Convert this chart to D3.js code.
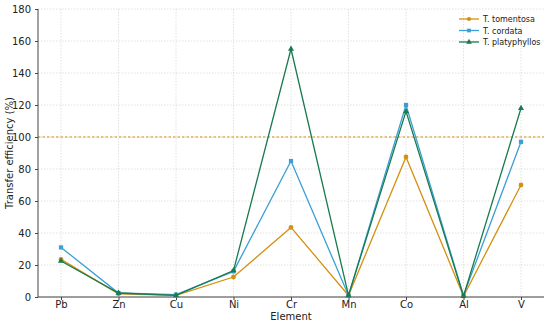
<!DOCTYPE html>
<html><head><meta charset="utf-8">
<script src="https://cdn.jsdelivr.net/npm/d3@7"></script>
<style>body{margin:0;background:#fff}svg{display:block}text{font-family:"DejaVu Sans",sans-serif}</style>
</head><body><svg id="c" width="550" height="325"></svg>
<script>
const categories = ["Pb","Zn","Cu","Ni","Cr","Mn","Co","Al","V"];
const tomentosa = [23.5,2,1,12.5,43.5,1,87.5,0.5,70];
const cordata = [31,2.5,1.5,16,85,1,120,1,97];
const platyphyllos = [22.5,2.5,1,16.5,155,1,116,0.5,118];
const yTicks = [0,20,40,60,80,100,120,140,160,180];
const seriesNames = ["T. tomentosa","T. cordata","T. platyphyllos"];
const refLine = 100;

const series = [
  {name:seriesNames[0], values:tomentosa, color:"#d4900f", sym:d3.symbolCircle},
  {name:seriesNames[1], values:cordata, color:"#3a9fd6", sym:d3.symbolSquare},
  {name:seriesNames[2], values:platyphyllos, color:"#187a4e", sym:d3.symbolTriangle}
];

const svg = d3.select("#c");
const L=38, R=544, T=9, B=297;
const x = d3.scalePoint().domain(categories).range([61,521]);
const y = d3.scaleLinear().domain([0,180]).range([B,T]);

// grid
const g = svg.append("g");
g.selectAll(".gy").data(yTicks).join("line")
  .attr("x1",L).attr("x2",R).attr("y1",d=>y(d)).attr("y2",d=>y(d))
  .attr("stroke","#d9d9d9").attr("stroke-width",0.8).attr("stroke-dasharray","1.5,1.5");
g.selectAll(".gx").data(categories).join("line")
  .attr("x1",d=>x(d)).attr("x2",d=>x(d)).attr("y1",T).attr("y2",B)
  .attr("stroke","#d9d9d9").attr("stroke-width",0.8).attr("stroke-dasharray","1.5,1.5");

// reference line
svg.append("line").attr("x1",L).attr("x2",R).attr("y1",y(refLine)).attr("y2",y(refLine))
  .attr("stroke","#d4900f").attr("stroke-width",1.2).attr("stroke-dasharray","2.5,2");

// axes
const yAxis = svg.append("g").attr("transform",`translate(${L},0)`)
  .call(d3.axisLeft(y).tickValues(yTicks).tickSize(3).tickSizeOuter(0));
const xAxis = svg.append("g").attr("transform",`translate(0,${B})`)
  .call(d3.axisBottom(x).tickSize(3).tickSizeOuter(0));
xAxis.select(".domain").attr("d",`M${L},0H${R}`);
yAxis.select(".domain").attr("d",`M0,${B}V${T}`);
[xAxis,yAxis].forEach(a=>{
  a.selectAll(".domain,line").attr("stroke","#444").attr("stroke-width",1);
  a.selectAll("text").attr("font-size",10).attr("fill","#222").attr("font-family","DejaVu Sans, sans-serif");
});
yAxis.selectAll("text").attr("dx","-1");
xAxis.selectAll("text").attr("y",3.5);

// labels
svg.append("text").attr("x",(L+R)/2).attr("y",319.5).attr("text-anchor","middle")
  .attr("font-size",10).attr("fill","#222").text("Element");
svg.append("text").attr("transform",`translate(13,${(T+B)/2}) rotate(-90)`).attr("text-anchor","middle")
  .attr("font-size",10).attr("fill","#222").text("Transfer efficiency (%)");

// lines
const line = d3.line().x((d,i)=>x(categories[i])).y(d=>y(d));
series.forEach(s=>{
  svg.append("path").datum(s.values).attr("d",line).attr("fill","none")
    .attr("stroke",s.color).attr("stroke-width",1.3);
  svg.selectAll(null).data(s.values).join("path")
    .attr("transform",(d,i)=>`translate(${x(categories[i])},${y(d)})`)
    .attr("d",d3.symbol().type(s.sym).size(s.sym===d3.symbolTriangle?16:18))
    .attr("fill",s.color);
});

// legend
const lg = svg.append("g").attr("transform","translate(459,19)");
series.forEach((s,i)=>{
  const row = lg.append("g").attr("transform",`translate(0,${i*11.5})`);
  row.append("line").attr("x1",0).attr("x2",20).attr("stroke",s.color).attr("stroke-width",1.3);
  row.append("path").attr("transform","translate(10,0)")
    .attr("d",d3.symbol().type(s.sym).size(14)).attr("fill",s.color);
  row.append("text").attr("x",24).attr("y",3).attr("font-size",8).attr("fill","#222").text(s.name);
});
</script></body></html>
